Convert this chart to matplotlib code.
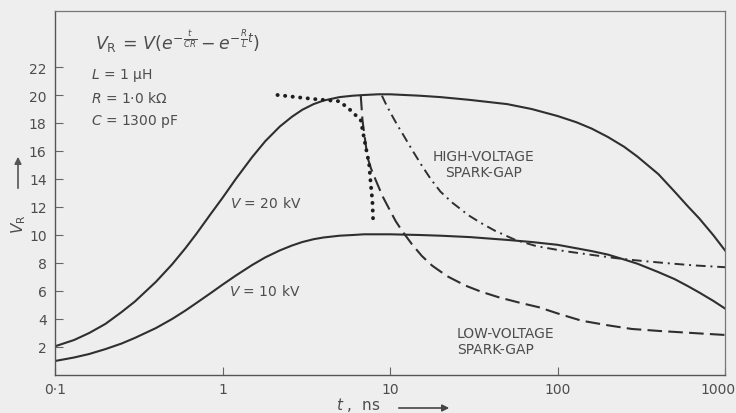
import matplotlib.pyplot as plt
from matplotlib.ticker import FixedLocator, NullLocator

# V_R against t (ns)
t_main = [0.1, 0.13, 0.16, 0.2, 0.25, 0.3, 0.4, 0.5, 0.6, 0.7, 0.85, 1, 1.2, 1.5, 1.8, 2.2,
          2.6, 3, 3.5, 4, 5, 6, 7, 8.5, 10, 15, 20, 30, 50, 70, 100, 130, 160, 200, 250,
          300, 400, 500, 600, 700, 850, 1000]
v_20kv = [2.05, 2.5, 3.0, 3.65, 4.5, 5.25, 6.65, 7.9, 9.05, 10.1, 11.5, 12.65, 14.0, 15.55,
          16.7, 17.75, 18.45, 18.95, 19.35, 19.6, 19.85, 19.95, 20.0, 20.05, 20.05, 19.95,
          19.85, 19.65, 19.35, 19.0, 18.5, 18.05, 17.6, 17.0, 16.3, 15.6, 14.35, 13.1, 12.05,
          11.2, 10.0, 8.9]
v_10kv = [1.0, 1.25, 1.5, 1.85, 2.25, 2.65, 3.35, 4.0, 4.6, 5.15, 5.85, 6.45, 7.1, 7.85,
          8.4, 8.9, 9.25, 9.5, 9.7, 9.82, 9.95, 10.0, 10.05, 10.05, 10.05, 10.0, 9.95, 9.85,
          9.65, 9.5, 9.3, 9.05, 8.85, 8.6, 8.25, 7.95, 7.35, 6.85, 6.35, 5.9, 5.3, 4.75]

# low-voltage spark-gap (dashed)
t_low = [6.69, 6.85, 7.1, 7.34, 7.7, 8.2, 9.0, 10.0, 10.8, 11.8, 13.5, 15.5, 17.9, 22, 28.3,
         35, 44.6, 60, 77.4, 100, 139, 200, 277, 400, 547, 750, 1000]
v_low = [19.95, 18.2, 16.8, 15.55, 14.75, 13.95, 12.8, 11.75, 11.0, 10.3, 9.35, 8.5, 7.8, 7.05,
         6.38, 5.95, 5.55, 5.15, 4.84, 4.4, 3.88, 3.55, 3.29, 3.15, 3.05, 2.95, 2.86]

# high-voltage spark-gap (dash-dot)
t_high = [8.95, 9.5, 10.1, 11, 12, 13.6, 15.5, 17.5, 20, 23.6, 29.5, 35, 42.4, 56, 75, 110,
          160, 222, 300, 437, 650, 1000]
v_high = [19.95, 19.3, 18.7, 17.9, 17.15, 16.05, 14.95, 14.0, 13.1, 12.3, 11.4, 10.85, 10.3,
          9.65, 9.2, 8.85, 8.58, 8.35, 8.18, 8.0, 7.83, 7.7]

# dotted curve
t_dot = [2.13, 2.75, 3.6, 4.5, 5.0, 5.83, 6.69, 7.16, 7.5, 7.68, 7.85, 7.93]
v_dot = [20.0, 19.85, 19.7, 19.6, 19.55, 18.9, 18.2, 16.3, 15.1, 13.6, 12.45, 11.0]

x_ticks = [0.1, 1, 10, 100, 1000]
x_labels = ['0\u00b71', '1', '10', '100', '']
y_ticks = [2, 4, 6, 8, 10, 12, 14, 16, 18, 20, 22]

W, H = 736, 414
bg = '#eeeeee'
ink = '#2f2f2f'
txt = '#4d4d4d'

fig = plt.figure(figsize=(W / 100, H / 100), dpi=100, facecolor=bg)
ax = fig.add_axes([55 / W, 38 / H, 670 / W, 364 / H], facecolor=bg)

def px(x, y):
    return x / W, 1 - y / H

ax.plot(t_main, v_20kv, color=ink, lw=1.5)
ax.plot(t_main, v_10kv, color=ink, lw=1.5)
ax.plot(t_low, v_low, color=ink, lw=1.5, dashes=(7, 3))
ax.plot(t_high, v_high, color=ink, lw=1.4, dashes=(5, 2.5, 1, 2.5))
ax.plot(t_dot, v_dot, color='#1e1e1e', lw=2.8, dashes=(0.05, 1.9), dash_capstyle='round')

ax.set_xscale('log')
ax.set_xlim(0.1, 1000)
ax.set_ylim(0, 26)
ax.xaxis.set_major_locator(FixedLocator(x_ticks))
ax.xaxis.set_minor_locator(NullLocator())
ax.set_xticklabels(x_labels)
ax.set_yticks(y_ticks)
ax.tick_params(direction='in', length=6, width=0.8, color='#666666',
               labelcolor=txt, labelsize=10)
ax.tick_params(axis='x', pad=5)
ax.tick_params(axis='y', pad=6)
# last x label pulled in so it stays inside the picture
ax.annotate('1000', xy=(1000, 0), xycoords=('data', 'axes fraction'),
            xytext=(-5, -5), textcoords='offset points', ha='center', va='top',
            color=txt, fontsize=10)
for side in ['left', 'bottom']:
    ax.spines[side].set_color('#555555')
    ax.spines[side].set_linewidth(1.0)
for side in ['top', 'right']:
    ax.spines[side].set_color('#777777')
    ax.spines[side].set_linewidth(0.9)

# formula and circuit values
fig.text(*px(95, 42), r'$V_{\rm R}\,=\,V(e^{-\frac{t}{CR}}-e^{-\frac{R}{L}t})$',
         color=txt, fontsize=12.5, va='center', ha='left')
fig.text(*px(91, 75), r'$L$ = 1 $\mathregular{\mu}$H', color=txt, fontsize=10, va='center')
fig.text(*px(91, 99), r'$R$ = 1$\cdot$0 k$\Omega$', color=txt, fontsize=10, va='center')
fig.text(*px(91, 122), r'$C$ = 1300 pF', color=txt, fontsize=10, va='center')

fig.text(*px(266, 204), r'$V$ = 20 kV', color=txt, fontsize=10, ha='center', va='center')
fig.text(*px(265, 292), r'$V$ = 10 kV', color=txt, fontsize=10, ha='center', va='center')
fig.text(*px(484, 165), 'HIGH-VOLTAGE\nSPARK-GAP', color=txt, fontsize=10,
         ha='center', va='center', linespacing=1.1)
fig.text(*px(457, 342), 'LOW-VOLTAGE\nSPARK-GAP', color=txt, fontsize=10,
         ha='left', va='center', linespacing=1.1)

# axis labels with arrows
fig.text(*px(19, 224), r'$V_{\rm R}$', color=txt, fontsize=11, rotation=90,
         ha='center', va='center')
ax.annotate('', xy=px(18, 155), xytext=px(18, 192), xycoords='figure fraction',
            textcoords='figure fraction',
            arrowprops=dict(arrowstyle='-|>', color='#555555', lw=1.2, mutation_scale=10))
fig.text(*px(358, 405), r'$t$ ,  ns', color=txt, fontsize=11, ha='center', va='center')
ax.annotate('', xy=px(452, 409), xytext=px(396, 409), xycoords='figure fraction',
            textcoords='figure fraction',
            arrowprops=dict(arrowstyle='-|>', color='#444444', lw=1.2, mutation_scale=10))

fig.savefig('out.png', dpi=100, facecolor=bg)
